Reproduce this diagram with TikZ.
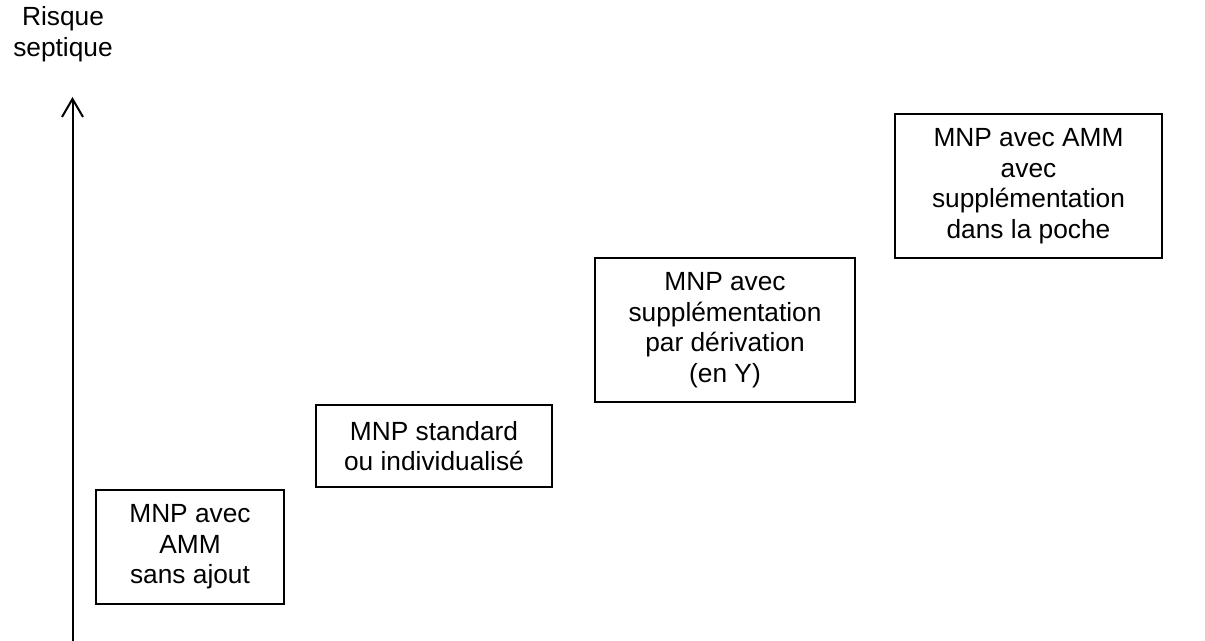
\documentclass[tikz,border=0pt]{standalone}
\usepackage{fontspec}
\setmainfont{Liberation Sans}
\usetikzlibrary{arrows.meta}
\begin{document}
\begin{tikzpicture}[x=0.5pt,y=-0.5pt,
 hop/.style={draw,line width=1pt,align=center,inner sep=0pt},
 >={Straight Barb[length=9pt,width=10.5pt]}]
 \fontsize{13.15}{15.25}\selectfont
 \useasboundingbox (0,0) rectangle (1205,641);
 % truc rui ro
 \coordinate (goc) at (72.5,641);
 \coordinate (dinh) at (72.5,97);
 \draw[->,line width=1pt] (goc)--(dinh);
 \path (63,34) node[align=center] (risque) {Risque\\septique};
 % cac hop
 \path
 (190,547) node[hop,minimum width=94pt,minimum height=57pt] (amm) {MNP avec\\AMM\\sans ajout}
 (434,446) node[hop,minimum width=118pt,minimum height=41pt] (std) {MNP standard\\ou individualisé}
 (725,330) node[hop,minimum width=130pt,minimum height=72pt] (deriv) {MNP avec\\supplémentation\\par dérivation\\(en Y)}
 (1028.5,186) node[hop,minimum width=133.5pt,minimum height=72pt] (poche) {MNP avec AMM\\avec\\supplémentation\\dans la poche}
 ;
\end{tikzpicture}
\end{document}
